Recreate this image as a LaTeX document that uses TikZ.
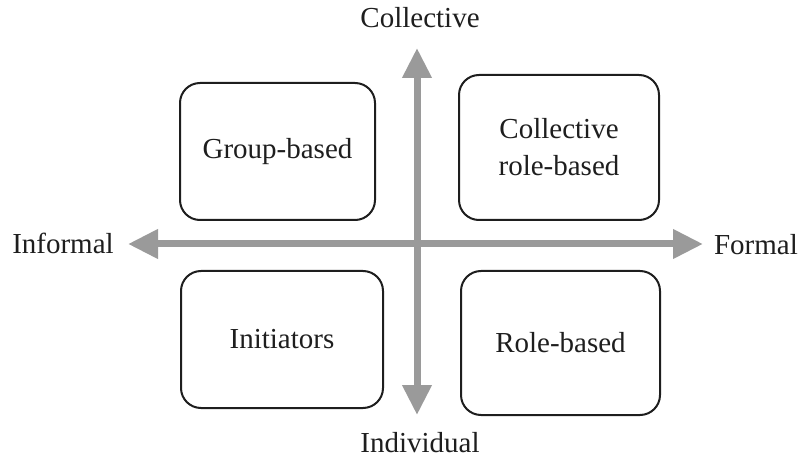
\documentclass[tikz,border=0pt]{standalone}
\usepackage{fontspec}
\setmainfont{Liberation Serif}
\newfontfamily\tmsfont{Liberation Serif}
\usetikzlibrary{arrows.meta}
\definecolor{axisgray}{HTML}{9A9A9A}
\definecolor{ink}{HTML}{1E1E1E}
\begin{document}
\begin{tikzpicture}[x=1pt,y=-1pt,
  quad/.style={draw=ink, line width=2pt, rounded corners=20pt, align=center,
    inner sep=0pt, font=\tmsfont\fontsize{29}{37}\selectfont, text=ink},
  lbl/.style={font=\tmsfont\fontsize{29}{37}\selectfont, text=ink, inner sep=0pt},
  axis/.style={draw=axisgray, line width=7pt,
    {Triangle[length=30pt,width=28pt]}-{Triangle[length=30pt,width=28pt]}}]
\useasboundingbox (0,0) rectangle (800,462);
% boxes
\node[quad, minimum width=195pt, minimum height=137pt] (gb) at (277.5,151.5) {Group-based};
\node[quad, minimum width=200pt, minimum height=145pt] (crb) at (559,147.5) {Collective\\role-based};
\node[quad, minimum width=202pt, minimum height=137pt] (ini) at (282,339.5) {Initiators};
\node[quad, minimum width=199pt, minimum height=144pt] (rb) at (560.5,343) {Role-based};
% axis ends
\coordinate (top) at (417,48);
\coordinate (bot) at (417,415);
\coordinate (lft) at (128,244);
\coordinate (rgt) at (703,244);
\draw[axis] (lft) -- (rgt);
\draw[axis] (bot) -- (top);
% labels
\node[lbl] (coll) at (420,18) {Collective};
\node[lbl] (ind) at (420,443) {Individual};
\node[lbl] (inf) at (63,243) {Informal};
\node[lbl] (form) at (756,245) {Formal};
\end{tikzpicture}
\end{document}
